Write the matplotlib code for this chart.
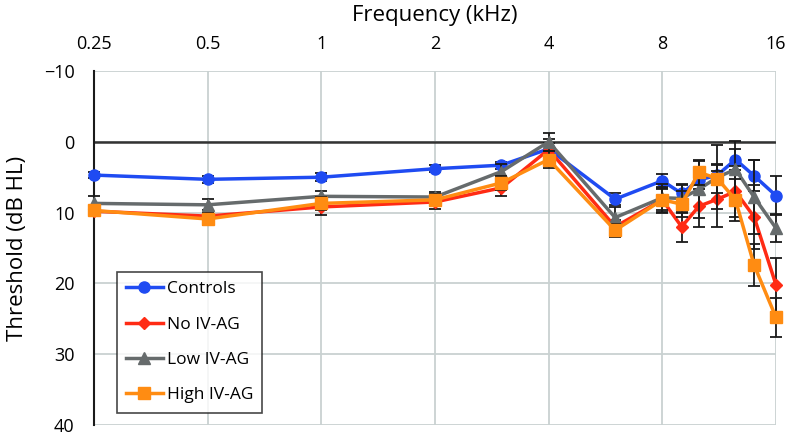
import numpy as np
import matplotlib
matplotlib.use("Agg")
import matplotlib.pyplot as plt

plt.rcParams['font.family'] = ['Open Sans', 'DejaVu Sans']

freqs = [0.25, 0.5, 1, 2, 3, 4, 6, 8, 9, 10, 11.2, 12.5, 14, 16]
tick_freqs = [0.25, 0.5, 1, 2, 4, 8, 16]
tick_labels = ['0.25', '0.5', '1', '2', '4', '8', '16']

controls = [4.7, 5.3, 5.0, 3.8, 3.3, 1.0, 8.1, 5.5, 7.3, 5.4, 4.7, 2.5, 4.8, 7.6]
controls_err = [0.4, 0.5, 0.6, 0.5, 0.5, 0.8, 0.8, 1.0, 1.2, 1.3, 1.4, 1.5, 2.2, 2.7]

no_ivag = [9.8, 10.5, 9.2, 8.5, 6.5, 1.1, 12.0, 8.2, 12.0, 9.1, 8.1, 7.0, 10.6, 20.2]
no_ivag_err = [0.6, 0.8, 1.1, 1.0, 1.2, 1.5, 1.0, 1.8, 2.1, 3.0, 4.0, 3.6, 4.5, 3.8]

low_ivag = [8.7, 8.9, 7.7, 7.8, 4.2, 0.0, 10.7, 7.9, 8.0, 6.7, 5.0, 3.9, 7.8, 12.2]
low_ivag_err = [1.0, 0.8, 0.8, 0.7, 1.0, 1.3, 1.5, 2.0, 2.0, 4.0, 4.5, 4.0, 5.2, 2.0]

high_ivag = [9.7, 10.9, 8.7, 8.2, 5.8, 2.5, 12.5, 8.2, 8.8, 4.3, 5.2, 8.2, 17.4, 24.8]
high_ivag_err = [0.6, 0.8, 0.9, 0.8, 1.0, 1.2, 0.9, 1.5, 1.8, 1.8, 2.0, 3.0, 3.0, 2.7]

series = [
    ('Controls', controls, controls_err, '#1f4bf2', 'o', 8),
    ('No IV-AG', no_ivag, no_ivag_err, '#ff2b14', 'D', 6),
    ('Low IV-AG', low_ivag, low_ivag_err, '#666b6c', '^', 8.5),
    ('High IV-AG', high_ivag, high_ivag_err, '#ff8c12', 's', 9),
]

fig = plt.figure(figsize=(7.87, 4.34), dpi=100)
ax = fig.add_axes([0.1194, 0.0207, 0.8666, 0.8157])

for i, (name, vals, errs, color, marker, ms) in enumerate(series):
    eb = ax.errorbar(freqs, vals, yerr=errs, fmt='none', ecolor='#1a1a1a',
                     elinewidth=1.3, capsize=4, capthick=1.3, zorder=3 + i * 2)
    for artist in eb.lines[1] + eb.lines[2]:
        artist.set_clip_on(False)
    ax.plot(freqs, vals, color=color, lw=2.5, marker=marker, ms=ms,
            label=name, zorder=4 + i * 2, clip_on=False)

ax.set_xscale('log', base=2)
ax.set_xlim(0.25, 16)
ax.set_ylim(40, -10)
ax.set_xticks(tick_freqs)
ax.set_xticklabels(tick_labels)
ax.minorticks_off()
ax.set_yticks([-10, 0, 10, 20, 30, 40])
ax.set_yticklabels(['\u221210', '0', '10', '20', '30', '40'])
ax.xaxis.tick_top()
ax.xaxis.set_label_position('top')
ax.tick_params(axis='both', length=0, labelsize=13)
ax.tick_params(axis='x', pad=13)
ax.tick_params(axis='y', pad=14)

ax.grid(True, color='#c9d1d1', lw=1.3)
ax.set_axisbelow(True)
for side in ['top', 'right', 'bottom']:
    ax.spines[side].set_visible(False)
ax.spines['left'].set_color('#1a1a1a')
ax.spines['left'].set_linewidth(1.5)
ax.axhline(0, color='#333333', lw=1.8, zorder=2)

ax.set_xlabel('Frequency (kHz)', fontsize=16, labelpad=10)
ax.set_ylabel('Threshold (dB HL)', fontsize=16, labelpad=11)

leg = ax.legend(loc='lower left', bbox_to_anchor=(0.0333, 0.0347),
                borderaxespad=0, fontsize=12.5, frameon=True, fancybox=False,
                handlelength=2.1, labelspacing=1.1, borderpad=0.55,
                handletextpad=0.22)
leg.get_frame().set_edgecolor('#1a1a1a')
leg.get_frame().set_linewidth(1.2)
leg.set_zorder(20)

fig.savefig('out.png', dpi=100)
